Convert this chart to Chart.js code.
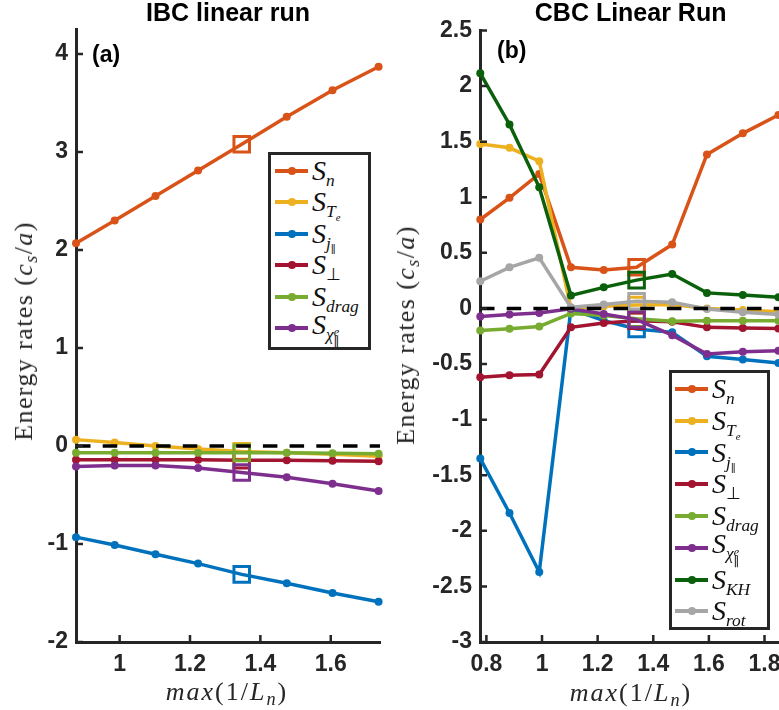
<!DOCTYPE html>
<html>
<head>
<meta charset="utf-8">
<script src="https://cdn.jsdelivr.net/npm/chart.js@4.4.1/dist/chart.umd.min.js"></script>
<style>
  html, body { margin: 0; padding: 0; background: #fff; overflow: hidden; }
  body { position: relative; width: 779px; height: 710px; }
  canvas { position: absolute; top: 0; }
  #ibc { left: 0; }
  #cbc { left: 390px; }
  .math { position: absolute; font-family: 'Liberation Serif', serif; color: #262626; white-space: nowrap; line-height: 1; }
  .ylab { font-size: 26px; letter-spacing: 1.4px; transform: translate(-50%, -50%) rotate(-90deg); }
  .xlab { font-size: 26px; letter-spacing: 2px; transform: translate(-50%, -50%); }
  .math sub { font-size: 0.7em; vertical-align: -0.3em; line-height: 0; }
  .legend { position: absolute; box-sizing: border-box; background: #fff; border: 3px solid #262626;
            font-family: 'Liberation Serif', serif; font-size: 28px; color: #111; }
  .legend .row { display: flex; align-items: center; white-space: nowrap; }
  .legend .swatch { position: relative; display: inline-block; width: 33px; height: 4px; margin-right: 4px; flex: none; }
  .legend .swatch b { position: absolute; left: 13px; top: -2px; width: 8px; height: 8px; border-radius: 50%; }
  .legend sub { font-size: 0.62em; vertical-align: -0.35em; line-height: 0; }
  .legend .ss { display: inline-block; font-size: 0.7em; line-height: 0.85em; vertical-align: -0.55em; text-align: left; }
  .legend .par { font-family: 'DejaVu Serif', serif; font-weight: normal; color: #111; }
  #ibcLegend { left: 268px; top: 152px; width: 103px; height: 198px; padding: 0 0 0 4px; }
  #ibcLegend .row { height: 31.5px; }
  #cbcLegend { left: 669px; top: 370px; width: 101px; height: 260px; padding: 0 0 0 3px; }
  #cbcLegend .row { height: 31.8px; }
</style>
</head>
<body>
<canvas id="ibc" width="390" height="710"></canvas>
<canvas id="cbc" width="400" height="710"></canvas>

<div class="math ylab" style="left:24px; top:331px;">Energy rates (<i>c</i><sub><i>s</i></sub>/<i>a</i>)</div>
<div class="math ylab" style="left:406px; top:335px;">Energy rates (<i>c</i><sub><i>s</i></sub>/<i>a</i>)</div>
<div class="math xlab" style="left:227px; top:692px;"><i>max</i>(1/<i>L</i><sub><i>n</i></sub>)</div>
<div class="math xlab" style="left:631px; top:693px;"><i>max</i>(1/<i>L</i><sub><i>n</i></sub>)</div>

<div class="legend" id="ibcLegend"></div>
<div class="legend" id="cbcLegend"></div>

<script>
// IBC linear run, panel (a)
const ibcX = [0.876, 0.986, 1.102, 1.223, 1.347, 1.475, 1.605, 1.736];
const ibcSn = [2.07, 2.30, 2.55, 2.81, 3.08, 3.36, 3.63, 3.87];
const ibcSTe = [0.065, 0.035, 0.0, -0.03, -0.055, -0.07, -0.085, -0.105];
const ibcSjpar = [-0.93, -1.01, -1.105, -1.20, -1.31, -1.40, -1.50, -1.59];
const ibcSperp = [-0.14, -0.14, -0.14, -0.14, -0.145, -0.145, -0.15, -0.155];
const ibcSdrag = [-0.07, -0.07, -0.07, -0.07, -0.07, -0.07, -0.075, -0.08];
const ibcSchi = [-0.21, -0.20, -0.20, -0.225, -0.27, -0.32, -0.385, -0.46];
const ibcXTicks = [1, 1.2, 1.4, 1.6];
const ibcYTicks = [-2, -1, 0, 1, 2, 3, 4];

// CBC linear run, panel (b)
const cbcX = [0.778, 0.883, 0.990, 1.104, 1.222, 1.340, 1.468, 1.593, 1.722, 1.850];
const cbcSn = [0.80, 0.995, 1.21, 0.37, 0.345, 0.37, 0.575, 1.385, 1.575, 1.74];
const cbcSTe = [1.48, 1.445, 1.325, 0.0, 0.02, 0.03, 0.035, 0.0, -0.015, -0.03];
const cbcSjpar = [-1.35, -1.84, -2.37, -0.005, -0.11, -0.185, -0.215, -0.43, -0.46, -0.49];
const cbcSperp = [-0.618, -0.60, -0.594, -0.17, -0.13, -0.11, -0.12, -0.17, -0.175, -0.18];
const cbcSdrag = [-0.198, -0.183, -0.162, -0.045, -0.063, -0.093, -0.115, -0.11, -0.11, -0.11];
const cbcSchi = [-0.072, -0.054, -0.04, -0.003, -0.05, -0.10, -0.24, -0.41, -0.39, -0.38];
const cbcSKH = [2.115, 1.655, 1.09, 0.117, 0.19, 0.255, 0.31, 0.14, 0.12, 0.10];
const cbcSrot = [0.245, 0.37, 0.455, 0.01, 0.035, 0.065, 0.055, -0.005, -0.035, -0.055];
const cbcXTicks = [0.8, 1, 1.2, 1.4, 1.6, 1.8];
const cbcYTicks = [-3, -2.5, -2, -1.5, -1, -0.5, 0, 0.5, 1, 1.5, 2, 2.5];

const colors = {
  S_n: '#D95319', S_Te: '#EDB120', S_jpar: '#0072BD', S_perp: '#A2142F',
  S_drag: '#77AC30', S_chi: '#7E2F8E', S_KH: '#0b610b', S_rot: '#a6a6a6'
};

const labelMarkup = {
  S_n: '<i>S</i><sub><i>n</i></sub>',
  S_Te: '<i>S</i><sub><i>T</i><sub><i>e</i></sub></sub>',
  S_jpar: '<i>S</i><sub><i>j</i><sub class="par">∥</sub></sub>',
  S_perp: '<i>S</i><sub>⊥</sub>',
  S_drag: '<i>S</i><sub><i>drag</i></sub>',
  S_chi: '<i>S</i><sub><i>χ</i><span class="ss"><i>e</i><br><span class="par">∥</span></span></sub>',
  S_KH: '<i>S</i><sub><i>KH</i></sub>',
  S_rot: '<i>S</i><sub><i>rot</i></sub>'
};

const axisColor = '#262626';
const tickFont = { family: "'Liberation Sans', Arial, sans-serif", size: 23, weight: 'bold' };

/*
  One line series; the run at index `hi` gets an open square marker.
*/
function series(label, xs, ys, hi, order) {
  const c = colors[label];
  return {
    label: label,
    data: xs.map((x, i) => ({ x: x, y: ys[i] })),
    borderColor: c,
    backgroundColor: c,
    borderWidth: 3.5,
    pointStyle: xs.map((x, i) => i === hi ? 'rect' : 'circle'),
    pointRadius: xs.map((x, i) => i === hi ? 11 : 4),
    pointBorderWidth: xs.map((x, i) => i === hi ? 3 : 0),
    pointBackgroundColor: xs.map((x, i) => i === hi ? 'rgba(255,255,255,0)' : c),
    pointBorderColor: c,
    tension: 0,
    clip: false,
    order: order
  };
}

// MATLAB style ticks pointing into the axes
const inwardTicks = {
  id: 'inwardTicks',
  afterDraw(chart) {
    const { ctx, chartArea, scales } = chart;
    ctx.save();
    ctx.strokeStyle = axisColor;
    ctx.lineWidth = 2.5;
    ctx.beginPath();
    scales.x.ticks.forEach(t => {
      const px = scales.x.getPixelForValue(t.value);
      ctx.moveTo(px, chartArea.bottom);
      ctx.lineTo(px, chartArea.bottom - 7);
    });
    scales.y.ticks.forEach(t => {
      const py = scales.y.getPixelForValue(t.value);
      ctx.moveTo(chartArea.left, py);
      ctx.lineTo(chartArea.left + 7, py);
    });
    ctx.stroke();
    ctx.restore();
  }
};

const zeroLine = {
  id: 'zeroLine',
  afterDatasetsDraw(chart) {
    const { ctx, chartArea, scales } = chart;
    const y = scales.y.getPixelForValue(0);
    ctx.save();
    ctx.strokeStyle = '#000';
    ctx.lineWidth = 3.5;
    ctx.setLineDash([14.5, 12.2]);
    ctx.beginPath();
    ctx.moveTo(chartArea.left, y);
    ctx.lineTo(chartArea.right, y);
    ctx.stroke();
    ctx.restore();
  }
};

const panelLabel = {
  id: 'panelLabel',
  afterDraw(chart, args, opts) {
    const { ctx, chartArea } = chart;
    ctx.save();
    ctx.font = 'bold 23px "Liberation Sans", Arial, sans-serif';
    ctx.fillStyle = '#000';
    ctx.textBaseline = 'middle';
    ctx.fillText(opts.text, chartArea.left + opts.dx, opts.y);
    ctx.restore();
  }
};

function makeChart(id, cfg) {
  const datasets = cfg.datasets;
  return new Chart(document.getElementById(id), {
    type: 'line',
    data: { datasets: datasets },
    options: {
      responsive: false,
      animation: false,
      devicePixelRatio: 1,
      layout: { padding: { left: 0, right: cfg.padRight, top: 0, bottom: 0 } },
      plugins: {
        legend: { display: false },
        tooltip: { enabled: false },
        title: {
          display: true,
          text: cfg.title,
          fullSize: false,
          color: '#000',
          font: { family: "'Liberation Sans', Arial, sans-serif", size: 25, weight: 'bold', lineHeight: 1.1 },
          padding: { top: 0, bottom: cfg.titleGap }
        },
        panelLabel: cfg.panel
      },
      scales: {
        x: {
          type: 'linear',
          min: cfg.xMin,
          max: cfg.xMax,
          afterBuildTicks: s => { s.ticks = cfg.xTicks.map(v => ({ value: v })); },
          afterFit: s => { s.height = 68; },
          grid: { display: false, drawTicks: false },
          border: { display: true, color: axisColor, width: 3 },
          ticks: { font: tickFont, color: axisColor, padding: 9, maxRotation: 0, callback: v => String(v) }
        },
        y: {
          type: 'linear',
          min: cfg.yMin,
          max: cfg.yMax,
          afterBuildTicks: s => { s.ticks = cfg.yTicks.map(v => ({ value: v })); },
          afterFit: s => { s.width = cfg.yWidth; },
          grid: { display: false, drawTicks: false },
          border: { display: true, color: axisColor, width: 3 },
          ticks: { font: tickFont, color: axisColor, padding: 8, callback: v => String(v) }
        }
      }
    },
    plugins: [zeroLine, inwardTicks, panelLabel]
  });
}

function buildLegend(chart, boxId) {
  const box = document.getElementById(boxId);
  chart.data.datasets.forEach(ds => {
    const row = document.createElement('div');
    row.className = 'row';
    row.innerHTML = '<span class="swatch" style="background:' + ds.borderColor + '"><b style="background:' +
      ds.borderColor + '"></b></span><span>' + labelMarkup[ds.label] + '</span>';
    box.appendChild(row);
  });
}

const ibcChart = makeChart('ibc', {
  title: 'IBC linear run',
  titleGap: 2,
  padRight: 10,
  yWidth: 76,
  xMin: 0.876, xMax: 1.74,
  yMin: -2, yMax: 4.25,
  xTicks: ibcXTicks, yTicks: ibcYTicks,
  panel: { text: '(a)', dx: 16, y: 55.5 },
  datasets: [
    series('S_n', ibcX, ibcSn, 4, 6),
    series('S_Te', ibcX, ibcSTe, 4, 5),
    series('S_jpar', ibcX, ibcSjpar, 4, 4),
    series('S_perp', ibcX, ibcSperp, 4, 3),
    series('S_drag', ibcX, ibcSdrag, 4, 2),
    series('S_chi', ibcX, ibcSchi, 4, 1)
  ]
});

const cbcChart = makeChart('cbc', {
  title: 'CBC Linear Run',
  titleGap: 3,
  padRight: 8,
  yWidth: 90,
  xMin: 0.777, xMax: 1.86,
  yMin: -3, yMax: 2.5,
  xTicks: cbcXTicks, yTicks: cbcYTicks,
  panel: { text: '(b)', dx: 17, y: 51.5 },
  datasets: [
    series('S_n', cbcX, cbcSn, 5, 8),
    series('S_Te', cbcX, cbcSTe, 5, 7),
    series('S_jpar', cbcX, cbcSjpar, 5, 6),
    series('S_perp', cbcX, cbcSperp, 5, 5),
    series('S_drag', cbcX, cbcSdrag, 5, 4),
    series('S_chi', cbcX, cbcSchi, 5, 3),
    series('S_KH', cbcX, cbcSKH, 5, 2),
    series('S_rot', cbcX, cbcSrot, 5, 1)
  ]
});

buildLegend(ibcChart, 'ibcLegend');
buildLegend(cbcChart, 'cbcLegend');
</script>
</body>
</html>
